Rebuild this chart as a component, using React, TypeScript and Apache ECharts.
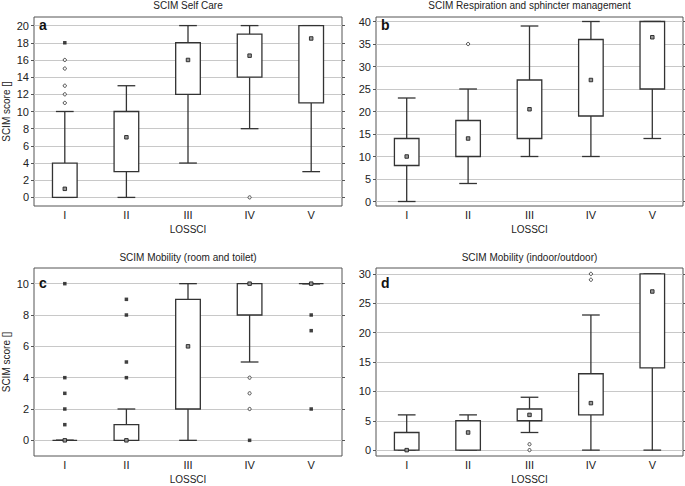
import React, { useEffect, useRef } from 'react';
import * as echarts from 'echarts';

const categories = ['I', 'II', 'III', 'IV', 'V'];

// Box rows: [category index, low whisker, q1, median, q3, high whisker]
const selfCareBoxes = [
  [0, 0, 0, 1, 4, 10],
  [1, 0, 3, 7, 10, 13],
  [2, 4, 12, 16, 18, 20],
  [3, 8, 14, 16.5, 19, 20],
  [4, 3, 11, 18.5, 20, 20],
];
const selfCareOutliers = [[0, 11], [0, 12], [0, 13], [0, 15], [0, 16], [3, 0]];
const selfCareExtremes = [[0, 18]];
const selfCareTicks = [0, 2, 4, 6, 8, 10, 12, 14, 16, 18, 20];

const respirationBoxes = [
  [0, 0, 8, 10, 14, 23],
  [1, 4, 10, 14, 18, 25],
  [2, 10, 14, 20.5, 27, 39],
  [3, 10, 19, 27, 36, 40],
  [4, 14, 25, 36.5, 40, 40],
];
const respirationOutliers = [[1, 35]];
const respirationExtremes: number[][] = [];
const respirationTicks = [0, 5, 10, 15, 20, 25, 30, 35, 40];

const roomToiletBoxes = [
  [0, 0, 0, 0, 0, 0],
  [1, 0, 0, 0, 1, 2],
  [2, 0, 2, 6, 9, 10],
  [3, 5, 8, 10, 10, 10],
  [4, 10, 10, 10, 10, 10],
];
const roomToiletOutliers = [[3, 4], [3, 3], [3, 2]];
const roomToiletExtremes = [
  [0, 10], [0, 4], [0, 3], [0, 2], [0, 1],
  [1, 9], [1, 8], [1, 5], [1, 4],
  [3, 0],
  [4, 8], [4, 7], [4, 2],
];
const roomToiletTicks = [0, 2, 4, 6, 8, 10];

const indoorOutdoorBoxes = [
  [0, 0, 0, 0, 3, 6],
  [1, 0, 0, 3, 5, 6],
  [2, 3, 5, 6, 7, 9],
  [3, 0, 6, 8, 13, 23],
  [4, 0, 14, 27, 30, 30],
];
const indoorOutdoorOutliers = [[2, 1], [2, 0], [3, 29], [3, 30]];
const indoorOutdoorExtremes: number[][] = [];
const indoorOutdoorTicks = [0, 5, 10, 15, 20, 25, 30];

const panelTitles = [
  'SCIM Self Care',
  'SCIM Respiration and sphincter management',
  'SCIM Mobility (room and toilet)',
  'SCIM Mobility (indoor/outdoor)',
];
const panelLetters = ['a', 'b', 'c', 'd'];
const yAxisName = 'SCIM score []';
const xAxisName = 'LOSSCI';

const FONT = '"Liberation Sans", Arial, sans-serif';
const INK = '#222';
const LINE = '#333';

const panels = [
  { boxes: selfCareBoxes, outliers: selfCareOutliers, extremes: selfCareExtremes, ticks: selfCareTicks, min: -1, max: 21, grid: { left: 34, top: 17, width: 308, height: 189 }, titleTop: 0, letterTop: 18, yName: true },
  { boxes: respirationBoxes, outliers: respirationOutliers, extremes: respirationExtremes, ticks: respirationTicks, min: -1, max: 41, grid: { left: 376, top: 17, width: 307, height: 189 }, titleTop: 0, letterTop: 18, yName: false },
  { boxes: roomToiletBoxes, outliers: roomToiletOutliers, extremes: roomToiletExtremes, ticks: roomToiletTicks, min: -1, max: 11, grid: { left: 34, top: 268, width: 308, height: 188 }, titleTop: 252, letterTop: 276, yName: true },
  { boxes: indoorOutdoorBoxes, outliers: indoorOutdoorOutliers, extremes: indoorOutdoorExtremes, ticks: indoorOutdoorTicks, min: -1, max: 31, grid: { left: 376, top: 268, width: 307, height: 188 }, titleTop: 252, letterTop: 276, yName: false },
];

const renderBox = (_params: any, api: any) => {
  const idx = api.value(0);
  const lo = api.value(1);
  const q1 = api.value(2);
  const med = api.value(3);
  const q3 = api.value(4);
  const hi = api.value(5);
  const band = api.size([1, 0])[0];
  const bw = band * 0.4;
  const cw = bw * 0.72;
  const pLo = api.coord([idx, lo]);
  const cx = pLo[0];
  const yLo = pLo[1];
  const yQ1 = api.coord([idx, q1])[1];
  const yMed = api.coord([idx, med])[1];
  const yQ3 = api.coord([idx, q3])[1];
  const yHi = api.coord([idx, hi])[1];
  const st = { stroke: LINE, lineWidth: 1.3, fill: null };
  return {
    type: 'group',
    children: [
      { type: 'line', shape: { x1: cx, y1: yLo, x2: cx, y2: yQ1 }, style: st },
      { type: 'line', shape: { x1: cx, y1: yQ3, x2: cx, y2: yHi }, style: st },
      { type: 'line', shape: { x1: cx - cw / 2, y1: yLo, x2: cx + cw / 2, y2: yLo }, style: st },
      { type: 'line', shape: { x1: cx - cw / 2, y1: yHi, x2: cx + cw / 2, y2: yHi }, style: st },
      { type: 'rect', shape: { x: cx - bw / 2, y: yQ3, width: bw, height: yQ1 - yQ3 }, style: { fill: '#fff', stroke: LINE, lineWidth: 1.3 } },
      { type: 'rect', shape: { x: cx - 1.75, y: yMed - 1.75, width: 3.5, height: 3.5 }, style: { fill: '#999', stroke: '#222', lineWidth: 0.9 } },
    ],
  };
};

export default function App() {
  const ref = useRef<HTMLDivElement>(null);
  useEffect(() => {
    if (!ref.current) return;
    const chart = echarts.init(ref.current, undefined, { renderer: 'svg' });
    const title: any[] = [];
    const grid: any[] = [];
    const xAxis: any[] = [];
    const yAxis: any[] = [];
    const series: any[] = [];
    panels.forEach((p, i) => {
      const cx = p.grid.left + p.grid.width / 2;
      title.push({
        text: panelTitles[i], left: cx, top: p.titleTop, textAlign: 'center', padding: 0,
        textStyle: { fontSize: 10, fontWeight: 'normal', color: INK, fontFamily: FONT },
      });
      title.push({
        text: panelLetters[i], left: p.grid.left + 5, top: p.letterTop, padding: 0,
        textStyle: { fontSize: 14, fontWeight: 'bold', color: '#111', fontFamily: FONT },
      });
      grid.push({ ...p.grid, show: true, borderColor: '#555', borderWidth: 1, backgroundColor: 'transparent' });
      xAxis.push({
        type: 'category', gridIndex: i, data: categories, boundaryGap: true,
        axisLine: { show: false }, axisTick: { show: false },
        axisLabel: { fontSize: 11, color: INK, margin: 3, fontFamily: FONT },
        name: xAxisName, nameLocation: 'middle', nameGap: 18,
        nameTextStyle: { fontSize: 10, color: INK, fontFamily: FONT },
        splitLine: { show: false },
      });
      yAxis.push({
        type: 'value', gridIndex: i, min: p.min, max: p.max,
        axisLine: { show: false },
        axisTick: { show: true, length: 3, inside: false, customValues: p.ticks, lineStyle: { color: '#555' } },
        axisLabel: { fontSize: 11, color: INK, margin: 5, customValues: p.ticks, fontFamily: FONT },
        splitLine: { show: true, lineStyle: { color: '#c8c8c8', width: 1 } },
        name: p.yName ? yAxisName : '', nameLocation: 'middle', nameGap: 23,
        nameTextStyle: { fontSize: 10, color: INK, fontFamily: FONT },
      });
      yAxis.push({
        type: 'value', gridIndex: i, min: p.min, max: p.max, position: 'right',
        axisLine: { show: false },
        axisTick: { show: true, length: 3, inside: false, customValues: p.ticks, lineStyle: { color: '#555' } },
        axisLabel: { show: false },
        splitLine: { show: false },
      });
      series.push({
        type: 'custom', xAxisIndex: i, yAxisIndex: i * 2, z: 3,
        renderItem: renderBox, data: p.boxes,
        encode: { x: 0, y: [1, 2, 3, 4, 5] }, silent: true,
      });
      series.push({
        type: 'scatter', xAxisIndex: i, yAxisIndex: i * 2, z: 4,
        symbol: 'circle', symbolSize: 3.2, data: p.outliers, silent: true,
        itemStyle: { color: '#fff', borderColor: '#222', borderWidth: 1 },
      });
      series.push({
        type: 'scatter', xAxisIndex: i, yAxisIndex: i * 2, z: 4,
        symbol: 'rect', symbolSize: 3.5, data: p.extremes, silent: true,
        itemStyle: { color: '#111' },
      });
    });
    chart.setOption({
      animation: false,
      backgroundColor: '#fff',
      textStyle: { fontFamily: FONT },
      title, grid, xAxis, yAxis, series,
    });
    return () => chart.dispose();
  }, []);
  return <div ref={ref} style={{ position: 'absolute', left: 0, top: 0, width: 685, height: 486 }} />;
}
